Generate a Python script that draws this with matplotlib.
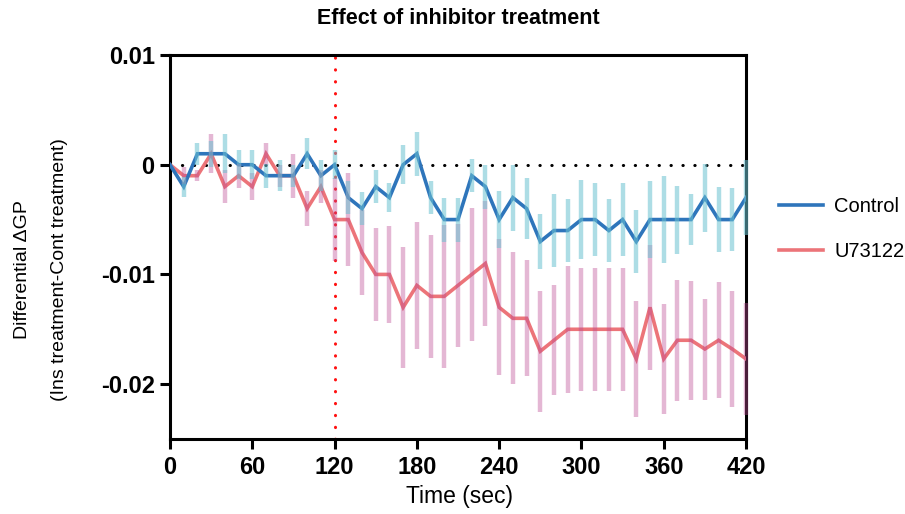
import matplotlib.pyplot as plt
import numpy as np

plt.rcParams['font.family'] = ['Liberation Sans', 'DejaVu Sans']

# time points (sec)
time_sec = np.arange(0, 430, 10)

control_mean = [0, -0.002, 0.001, 0.001, 0.001, 0, 0, -0.001, -0.001, -0.001,
                0.001, -0.001, 0, -0.003, -0.004, -0.002, -0.003, 0, 0.001, -0.003,
                -0.005, -0.005, -0.001, -0.002, -0.005, -0.003, -0.004, -0.007, -0.006, -0.006,
                -0.005, -0.005, -0.006, -0.005, -0.007, -0.005, -0.005, -0.005, -0.005, -0.003,
                -0.005, -0.005, -0.003]
control_sem = [0, 0.0009, 0.001, 0.0012, 0.0018, 0.0013, 0.0013, 0.0011, 0.0014, 0.001,
               0.0014, 0.0014, 0.0013, 0.0015, 0.0015, 0.0015, 0.0013, 0.0018, 0.002, 0.0015,
               0.002, 0.002, 0.0015, 0.002, 0.0026, 0.003, 0.0028, 0.0025, 0.0033, 0.0029,
               0.0036, 0.0033, 0.0029, 0.0033, 0.0029, 0.0035, 0.004, 0.0031, 0.0023, 0.0031,
               0.003, 0.0029, 0.0034]

u73122_mean = [0, -0.001, -0.001, 0.001, -0.002, -0.001, -0.002, 0.001, -0.001, -0.001,
               -0.004, -0.002, -0.005, -0.005, -0.008, -0.010, -0.010, -0.013, -0.011, -0.012,
               -0.012, -0.011, -0.010, -0.009, -0.013, -0.014, -0.014, -0.017, -0.016, -0.015,
               -0.015, -0.015, -0.015, -0.015, -0.0177, -0.013, -0.0177, -0.016, -0.016, -0.0168,
               -0.016, -0.0168, -0.0177]
u73122_sem = [0, 0.0008, 0.0005, 0.0018, 0.0015, 0.0011, 0.0012, 0.001, 0.001, 0.002,
              0.0016, 0.0015, 0.0038, 0.0042, 0.0039, 0.0042, 0.0044, 0.0055, 0.0058, 0.0056,
              0.0065, 0.0056, 0.0061, 0.0057, 0.0062, 0.006, 0.0053, 0.0055, 0.005, 0.0058,
              0.0056, 0.0056, 0.0056, 0.0056, 0.0053, 0.0057, 0.005, 0.0055, 0.0054, 0.0046,
              0.0053, 0.0053, 0.0051]

x_ticks = [0, 60, 120, 180, 240, 300, 360, 420]
y_ticks = [0.01, 0, -0.01, -0.02]
y_tick_labels = ['0.01', '0', '-0.01', '-0.02']

fig = plt.figure(figsize=(9.05, 5.14), dpi=100)
ax = fig.add_axes([170 / 905, 1 - 439 / 514, 576 / 905, 384 / 514])

# reference lines: zero baseline and inhibitor addition at 120 s
ax.axhline(0, color='black', lw=2.2, dashes=(0.1, 3.8), dash_capstyle='round', zorder=1)
ax.axvline(120, color='#ff1010', lw=2.2, dashes=(0.1, 3.8), dash_capstyle='round', zorder=1)

series = [
    ('U73122', u73122_mean, u73122_sem, '#ec7479', (0.74, 0.30, 0.58, 0.40)),
    ('Control', control_mean, control_sem, '#2e75bb', (0.42, 0.76, 0.82, 0.55)),
]
lines = {}
for name, mean, sem, lc, ec in series:
    ln, = ax.plot(time_sec, mean, color=lc, lw=2.6, zorder=3, solid_joinstyle='miter')
    eb = ax.errorbar(time_sec, mean, yerr=sem, fmt='none', ecolor=ec, elinewidth=3.2,
                     capsize=0, zorder=4)
    for coll in eb[2]:
        coll.set_clip_on(False)
    lines[name] = ln

ax.set_xlim(0, 420)
ax.set_ylim(-0.025, 0.01)
ax.set_xticks(x_ticks)
ax.set_yticks(y_ticks)
ax.set_yticklabels(y_tick_labels)

for sp in ax.spines.values():
    sp.set_linewidth(2.2)
ax.tick_params(direction='out', length=7, width=2.2, labelsize=17, pad=4)
ax.tick_params(axis='x', pad=5)
for lbl in ax.get_xticklabels() + ax.get_yticklabels():
    lbl.set_fontweight('bold')

fig.text(458 / 905, 1 - 18 / 514, 'Effect of inhibitor treatment', ha='center', va='center',
         fontsize=15.5, fontweight='bold')
fig.text(459 / 905, 1 - 497 / 514, 'Time (sec)', ha='center', va='center', fontsize=16.5)
fig.text(41 / 905, 1 - 270 / 514, 'Differential \u0394GP\n(Ins treatment-Cont treatment)',
         rotation=90, ha='center', va='center', multialignment='center', fontsize=14,
         linespacing=2.55)

ax.legend([lines['Control'], lines['U73122']], ['Control', 'U73122'], loc='center left',
          bbox_to_anchor=(1.026, 0.547), frameon=False, fontsize=14.5, handlelength=2.2,
          handletextpad=0.55, labelspacing=1.3)

fig.savefig('out.png', dpi=100)
